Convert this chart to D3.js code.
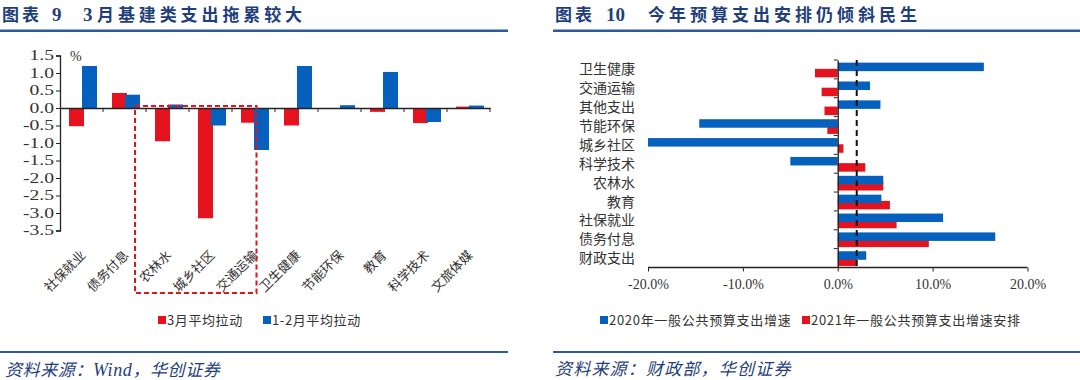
<!DOCTYPE html>
<html><head><meta charset="utf-8">
<script src="https://cdn.jsdelivr.net/npm/d3@7"></script>
<style>body{margin:0;background:#fff}svg{display:block}</style>
</head><body><svg id="c" width="1080" height="380"></svg>
<script>
// ---------- data: left chart ----------
const cats1 = ["社保就业","债务付息","农林水","城乡社区","交通运输","卫生健康","节能环保","教育","科学技术","文旅体媒"];
const marPull = [-0.52, 0.43, -0.95, -3.15, -0.42, -0.50, 0.00, -0.11, -0.43, 0.04];
const janFebPull = [1.20, 0.38, 0.10, -0.50, -1.20, 1.20, 0.08, 1.03, -0.40, 0.07];
const yTicks1 = [1.5,1.0,0.5,0.0,-0.5,-1.0,-1.5,-2.0,-2.5,-3.0,-3.5];
const legend1 = ["3月平均拉动","1-2月平均拉动"];
// ---------- data: right chart ----------
const cats2 = ["卫生健康","交通运输","其他支出","节能环保","城乡社区","科学技术","农林水","教育","社保就业","债务付息","财政支出"];
const g2020 = [15.4, 3.4, 4.5, -14.6, -20.0, -5.0, 4.8, 4.6, 11.1, 16.6, 3.0];
const g2021 = [-2.4, -1.7, -1.4, -1.1, 0.6, 2.9, 4.8, 5.5, 6.2, 9.6, 2.0];
const refLine = [2.0];
const xTicks2 = [-20,-10,0,10,20];
const legend2 = ["2020年一般公共预算支出增速","2021年一般公共预算支出增速安排"];

const RED="#E5131E", BLUE="#0660BE", NAVY="#1F3F7C", LINE="#2C5A9C", TXT="#333";
const serif="'Liberation Serif','Times New Roman',serif";
const cjk="'Noto Sans CJK SC','Noto Sans',sans-serif";
const svg = d3.select("#c");

// ---------- headers & footers ----------
function title(parts){
  const t = svg.append("text").attr("y",21).attr("fill",NAVY).attr("font-weight",700).attr("font-size",17);
  parts.forEach(p=>t.append("tspan").attr("x",p.x).attr("font-family",p.serif?serif:cjk)
      .attr("font-size",p.serif?19:17).attr("letter-spacing",p.ls||0).text(p.t));
}
title([{t:"图表",x:2,ls:3},{t:"9",x:52,serif:true},{t:"3",x:83,serif:true},{t:"月基建类支出拖累较大",x:97,ls:3.9}]);
title([{t:"图表",x:555,ls:3},{t:"10",x:606,serif:true},{t:"今年预算支出安排仍倾斜民生",x:648,ls:4}]);
[[0,508],[553,1080]].forEach(([a,b])=>{
  svg.append("line").attr("x1",a).attr("x2",b).attr("y1",30.8).attr("y2",30.8).attr("stroke",LINE).attr("stroke-width",2.5);
  svg.append("line").attr("x1",a).attr("x2",b).attr("y1",352).attr("y2",352).attr("stroke",LINE).attr("stroke-width",2.2);
});
const f1 = svg.append("text").attr("x",5).attr("y",376).attr("font-family",cjk).attr("font-size",17).attr("font-style","italic")
  .attr("fill",NAVY).attr("letter-spacing",0.6);
f1.append("tspan").text("资料来源：");
f1.append("tspan").attr("font-family",serif).attr("font-size",18).text("Wind");
f1.append("tspan").text("，华创证券");
svg.append("text").attr("x",555).attr("y",375).attr("font-family",cjk).attr("font-size",17).attr("font-style","italic")
  .attr("fill",NAVY).attr("letter-spacing",1.2).text("资料来源：财政部，华创证券");

// ---------- left chart ----------
const x1 = d3.scaleBand().domain(cats1).range([60,490]).padding(0);
const y1 = d3.scaleLinear().domain([-3.5,1.5]).range([230.5,55.5]);
const bw1 = 15;
const g1 = svg.append("g");
function vbars(vals, color, off){
  g1.append("g").selectAll("rect").data(cats1.map((c,i)=>({c,v:vals[i]}))).join("rect")
    .attr("x",d=>x1(d.c)+x1.bandwidth()/2+1.5+off)
    .attr("width",bw1)
    .attr("y",d=>Math.min(y1(d.v),y1(0)))
    .attr("height",d=>Math.max(Math.abs(y1(d.v)-y1(0)),0.01))
    .attr("fill",color);
}
vbars(marPull, RED, -14);
vbars(janFebPull, BLUE, -1);
// y axis
const ya1 = svg.append("g").attr("transform","translate(60,0)")
  .call(d3.axisLeft(y1).tickValues(yTicks1).tickSize(4).tickFormat(d=>d.toFixed(1)));
ya1.select(".domain").attr("stroke","#222").attr("stroke-width",1.3);
ya1.selectAll(".tick line").attr("stroke","#222");
ya1.selectAll("text").attr("font-family",serif).attr("font-size",14).attr("fill",TXT).attr("x",-6)
  .each(function(){ const w=this.getComputedTextLength(); d3.select(this).attr("textLength",w*1.4).attr("lengthAdjust","spacingAndGlyphs"); });
// x axis at zero
const xa1 = svg.append("g").attr("transform",`translate(0,${y1(0)})`)
  .call(d3.axisBottom(x1).tickSize(0).tickFormat(""));
xa1.select(".domain").attr("stroke","#222").attr("stroke-width",1.5);
xa1.selectAll(".tick").remove();
svg.append("g").selectAll("line").data(d3.range(1,cats1.length+1)).join("line")
  .attr("x1",i=>i<cats1.length?x1(cats1[i]):x1.range()[1]).attr("x2",i=>i<cats1.length?x1(cats1[i]):x1.range()[1])
  .attr("y1",y1(0)).attr("y2",y1(0)+4).attr("stroke","#222");
svg.append("text").attr("x",70).attr("y",61).attr("font-family",serif).attr("font-size",14).attr("fill",TXT).text("%");
// category labels
svg.append("g").selectAll("text").data(cats1).join("text")
  .attr("transform",d=>`translate(${x1(d)+x1.bandwidth()/2+5},256) rotate(-45)`)
  .attr("text-anchor","end").attr("font-family",cjk).attr("font-size",13).attr("fill",TXT).text(d=>d);
// dashed annotation box
const bx0 = x1("农林水")-11, bx1 = x1("交通运输")+x1.bandwidth()/2+3;
svg.append("rect").attr("x",bx0).attr("y",y1(0)-2).attr("width",bx1-bx0).attr("height",293-(y1(0)-2))
  .attr("fill","none").attr("stroke",RED).attr("stroke-width",2).attr("stroke-dasharray","5,3");
// legend
[[158,RED,legend1[0]],[263,BLUE,legend1[1]]].forEach(([x,c,t])=>{
  svg.append("rect").attr("x",x).attr("y",316).attr("width",8).attr("height",8).attr("fill",c);
  svg.append("text").attr("x",x+9).attr("y",325).attr("font-family",cjk).attr("font-size",13).attr("letter-spacing",0.6).attr("fill",TXT).text(t);
});

// ---------- right chart ----------
const x2 = d3.scaleLinear().domain([-20,20]).range([648,1027.5]);
const y2 = d3.scaleBand().domain(cats2).range([60,267.5]).padding(0);
const bh = 8.5;
const g2 = svg.append("g");
function hbars(vals,color,off){
  g2.append("g").selectAll("rect").data(cats2.map((c,i)=>({c,v:vals[i]}))).join("rect")
    .attr("y",d=>y2(d.c)+y2.bandwidth()/2+off)
    .attr("height",bh)
    .attr("x",d=>Math.min(x2(d.v),x2(0)))
    .attr("width",d=>Math.abs(x2(d.v)-x2(0)))
    .attr("fill",color);
}
hbars(g2021,RED,-0.6);
hbars(g2020,BLUE,-6.8);
// x axis
const xa2 = svg.append("g").attr("transform",`translate(0,${y2.range()[1]})`)
  .call(d3.axisBottom(x2).tickValues(xTicks2).tickSize(4).tickFormat(d=>d.toFixed(1)+"%"));
xa2.select(".domain").attr("stroke","#222").attr("stroke-width",1.3).attr("d",`M${x2(-20)},0H${x2(20)}`);
xa2.selectAll(".tick line").attr("stroke","#222");
xa2.selectAll("text").attr("font-family",serif).attr("font-size",14).attr("fill",TXT).attr("dy","1.05em");
// y axis at zero
const ya2 = svg.append("g").attr("transform",`translate(${x2(0)},0)`)
  .call(d3.axisLeft(y2).tickSize(0).tickFormat(""));
ya2.select(".domain").attr("stroke","#222").attr("stroke-width",1.3);
ya2.selectAll(".tick").remove();
svg.append("g").selectAll("line").data(d3.range(cats2.length+1)).join("line")
  .attr("x1",x2(0)-4).attr("x2",x2(0))
  .attr("y1",i=>i<cats2.length?y2(cats2[i]):y2.range()[1]).attr("y2",i=>i<cats2.length?y2(cats2[i]):y2.range()[1])
  .attr("stroke","#222");
// category labels
svg.append("g").selectAll("text").data(cats2).join("text")
  .attr("x",635).attr("y",d=>y2(d)+y2.bandwidth()/2).attr("dy","0.36em")
  .attr("text-anchor","end").attr("font-family",cjk).attr("font-size",14).attr("fill",TXT).text(d=>d);
// reference dashed line
svg.append("g").selectAll("line").data(refLine).join("line")
  .attr("x1",d=>x2(d)).attr("x2",d=>x2(d)).attr("y1",y2.range()[0]).attr("y2",y2.range()[1])
  .attr("stroke","#111").attr("stroke-width",2).attr("stroke-dasharray","6,4");
// legend
[[600,BLUE,legend2[0]],[802,RED,legend2[1]]].forEach(([x,c,t])=>{
  svg.append("rect").attr("x",x).attr("y",316).attr("width",8).attr("height",8).attr("fill",c);
  svg.append("text").attr("x",x+9).attr("y",325).attr("font-family",cjk).attr("font-size",13).attr("letter-spacing",0.7).attr("fill",TXT).text(t);
});
</script></body></html>
